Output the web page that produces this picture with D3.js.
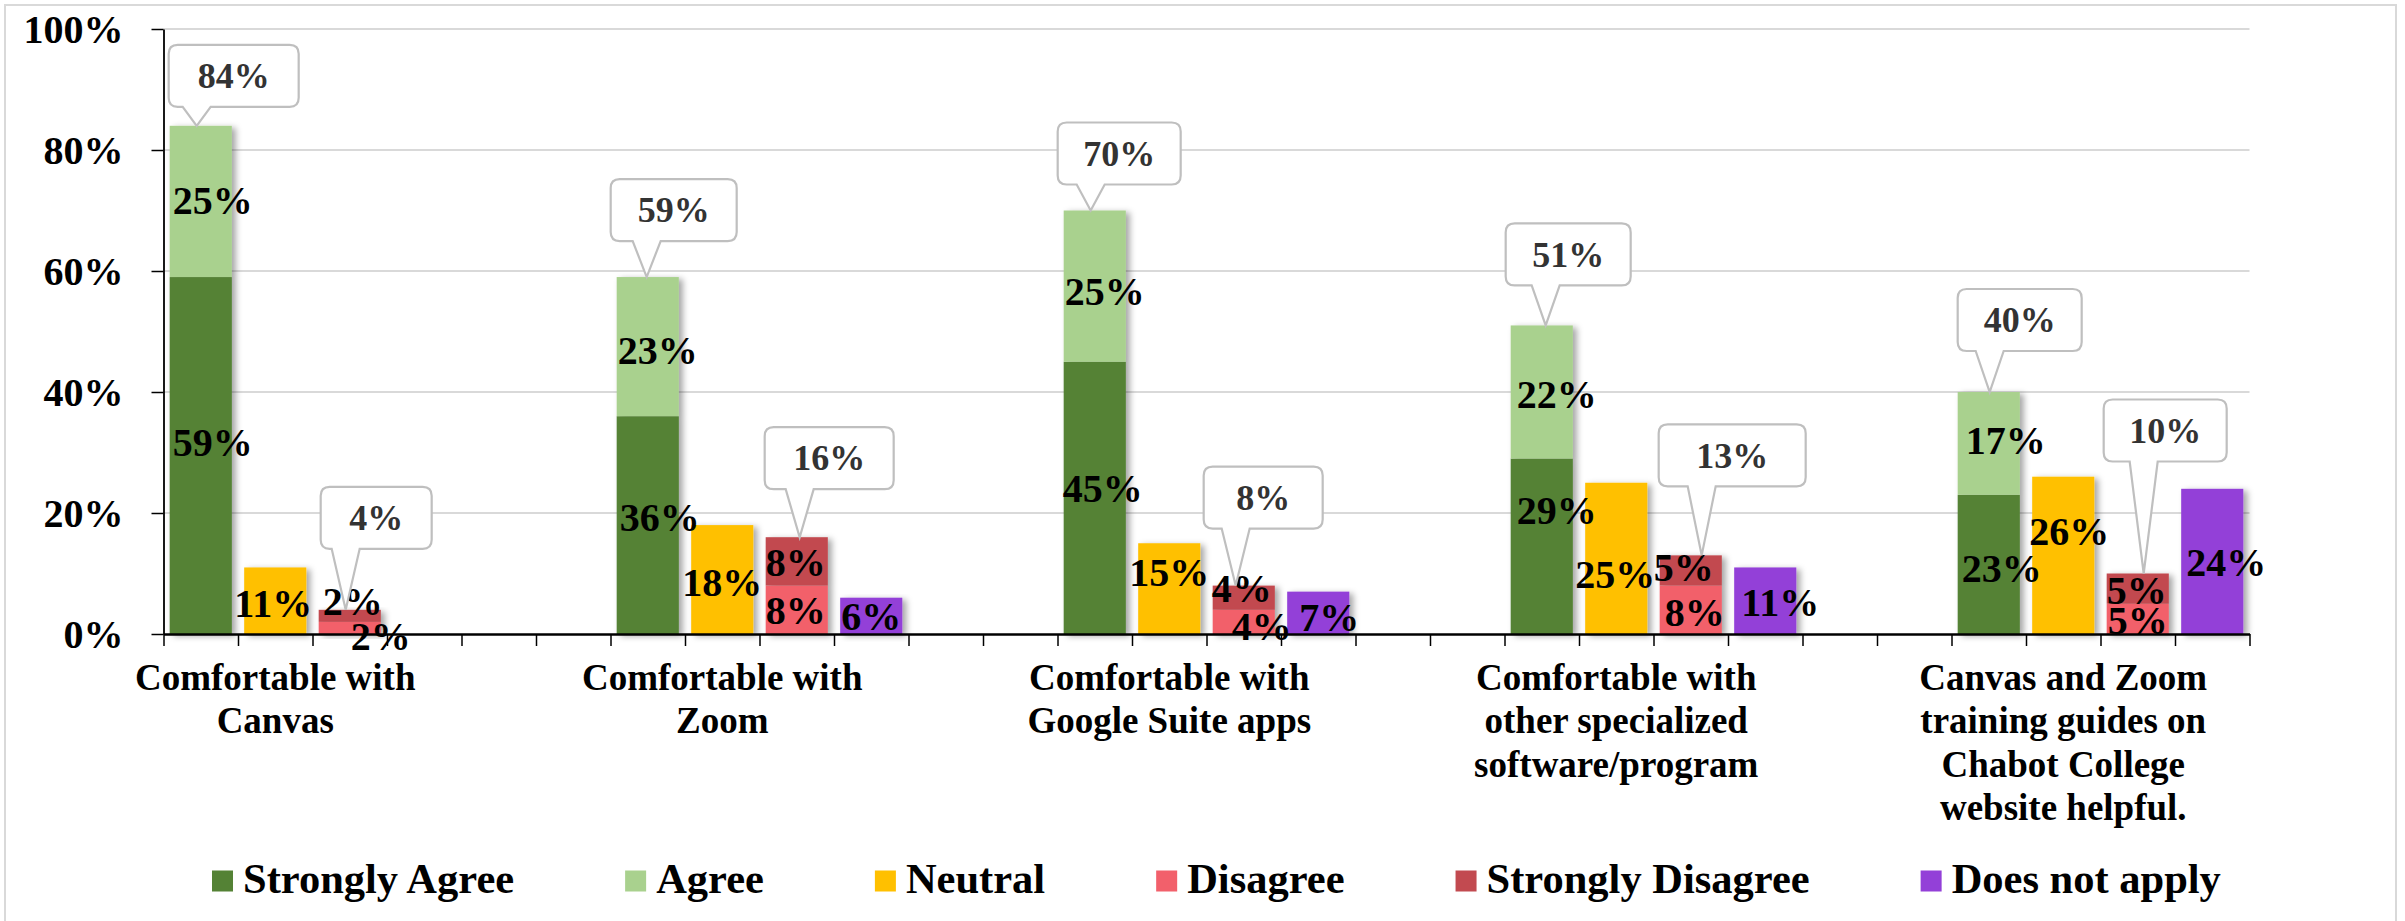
<!DOCTYPE html>
<html><head><meta charset="utf-8">
<script src="https://cdn.jsdelivr.net/npm/d3@7"></script>
<style>
html,body{margin:0;padding:0;background:#fff;}
</style>
</head><body>
<svg id="chart" width="2405" height="921"></svg>
<script>
// ---------- data ----------
const categories = [
  ["Comfortable with", "Canvas"],
  ["Comfortable with", "Zoom"],
  ["Comfortable with", "Google Suite apps"],
  ["Comfortable with", "other specialized", "software/program"],
  ["Canvas and Zoom", "training guides on", "Chabot College", "website helpful."]
];
const seriesNames = ["Strongly Agree", "Agree", "Neutral", "Disagree", "Strongly Disagree", "Does not apply"];
const stronglyAgree    = [59, 36, 45, 29, 23];
const agree            = [25, 23, 25, 22, 17];
const neutral          = [11, 18, 15, 25, 26];
const disagree         = [2, 8, 4, 8, 5];
const stronglyDisagree = [2, 8, 4, 5, 5];
const doesNotApply     = [null, 6, 7, 11, 24];
const yTickValues      = [0, 20, 40, 60, 80, 100];

// ---------- styles / layout ----------
const FONT = "Liberation Serif";
const colors = ["#548235", "#a9d18e", "#ffc000", "#f2606b", "#c24a50", "#9340d8"];
const groupOf = [0, 0, 1, 2, 2, 3];         // which bar slot in a cluster each series uses
// small manual nudges of the in-bar labels (px), as placed in the original
const labelNudge = [
  {dx: [12, 12, 8, 15, 13],  dy: [-13, -8, -9, -36, 4]},
  {dx: [12, 10, 10, 15, 17], dy: [-1, 4, 5, 2, -3]},
  {dx: [-2, 0, 0, -1, 6],    dy: [3, 3, -16, 16, -24]},
  {dx: [31, -1, 18, 4, 0],   dy: [8, 1, 4, 3, 2]},
  {dx: [3, -1, -2, -7, -1],  dy: [-14, 1, -9, -3, 2]},
  {dx: [0, 0, 11, 15, 14],   dy: [0, 1, 5, 2, 1]}
];
// callout placement (px relative to the bar): box x-offset, gap above bar, tip offset, box width
const calloutLayout = {
  0: [{dx:-1,gap:19,tip:27,w:130},{dx:-6,gap:36,tip:30,w:126},{dx:-6,gap:26,tip:27,w:123},{dx:-5,gap:40,tip:35,w:125},{dx:0,gap:41,tip:32,w:124}],
  2: [{dx:2,gap:61,tip:27,w:111},{dx:-1,gap:48,tip:34,w:129},{dx:-9,gap:57,tip:23,w:119},{dx:-1,gap:69,tip:42,w:147},{dx:-3,gap:112,tip:37,w:123}]
};

const X0 = 163.5, X1 = 2249.5, Y0 = 634, Y1 = 29;
const slotsPerCat = 6, groupsPerCat = 4;
const nSlots = (categories.length - 1) * slotsPerCat + groupsPerCat;

const seriesValues = [stronglyAgree, agree, neutral, disagree, stronglyDisagree, doesNotApply];

const svg = d3.select("#chart").style("font-family", FONT).style("font-weight", "bold");
svg.append("rect").attr("x", 5).attr("y", 5).attr("width", 2391).attr("height", 940)
  .attr("fill", "none").attr("stroke", "#d9d9d9").attr("stroke-width", 2);

const defs = svg.append("defs");
const f = defs.append("filter").attr("id", "shadow").attr("x", "-20%").attr("y", "-10%").attr("width", "150%").attr("height", "130%");
f.append("feDropShadow").attr("dx", 4).attr("dy", 2).attr("stdDeviation", 3)
  .attr("flood-color", "#000").attr("flood-opacity", 0.35);

const x = d3.scaleBand().domain(d3.range(nSlots)).range([X0, X1]).paddingInner(0.166).paddingOuter(0.083);
const xs = d3.scaleLinear().domain([0, nSlots]).range([X0, X1]);
const y = d3.scaleLinear().domain([0, 100]).range([Y0, Y1]);
const bw = x.bandwidth();

// gridlines
svg.append("g").selectAll("line").data(yTickValues.filter(v => v > 0)).join("line")
  .attr("x1", X0).attr("x2", X1).attr("y1", d => y(d)).attr("y2", d => y(d))
  .attr("stroke", "#d9d9d9").attr("stroke-width", 2);

// build segments
const segs = [];
categories.forEach((c, ci) => {
  const base = [0, 0, 0, 0];
  seriesValues.forEach((vals, si) => {
    const v = vals[ci];
    if (v == null) return;
    const g = groupOf[si];
    segs.push({ci, si, g, slot: ci * slotsPerCat + g, y0: base[g], y1: base[g] + v, v});
    base[g] += v;
  });
});

// bars (one shadowed group per slot)
const slotGroups = d3.groups(segs, d => d.slot);
svg.append("g").selectAll("g").data(slotGroups).join("g")
  .attr("filter", "url(#shadow)")
  .selectAll("rect").data(d => d[1]).join("rect")
  .attr("x", d => x(d.slot)).attr("width", bw)
  .attr("y", d => y(d.y1)).attr("height", d => y(d.y0) - y(d.y1))
  .attr("fill", d => colors[d.si]);

// axes
const yAxis = d3.axisLeft(y).tickValues(yTickValues).tickFormat(d => d + "%").tickSize(12).tickPadding(28).tickSizeOuter(0);
const gy = svg.append("g").attr("transform", `translate(${X0},0)`).call(yAxis)
  .attr("font-family", null).attr("font-size", null);
gy.select(".domain").attr("stroke", "#000").attr("stroke-width", 1.8);
gy.selectAll(".tick line").attr("stroke", "#000").attr("stroke-width", 1.5);
gy.selectAll(".tick text").style("font-size", "40px").style("font-family", FONT).style("font-weight", "bold")
  .attr("fill", "#000").attr("dy", "0.34em");

const xAxis = d3.axisBottom(xs).tickValues(d3.range(nSlots + 1)).tickFormat("").tickSize(12).tickSizeOuter(0);
const gx = svg.append("g").attr("transform", `translate(0,${Y0})`).call(xAxis);
gx.select(".domain").attr("stroke", "#000").attr("stroke-width", 2.5);
gx.selectAll(".tick line").attr("stroke", "#000").attr("stroke-width", 1.5);

// in-bar data labels
svg.append("g").selectAll("text").data(segs).join("text")
  .attr("x", d => x(d.slot) + bw / 2 + labelNudge[d.si].dx[d.ci])
  .attr("y", d => y((d.y0 + d.y1) / 2) + labelNudge[d.si].dy[d.ci])
  .attr("dy", "0.34em").attr("text-anchor", "middle")
  .style("font-family", FONT).style("font-weight", "bold").style("font-size", "40px").attr("fill", "#000")
  .text(d => d.v + "%");

// callouts with totals
const totals = [];
[0, 2].forEach(g => {
  categories.forEach((c, ci) => {
    const s = segs.filter(d => d.ci === ci && d.g === g);
    const total = d3.sum(s, d => d.v);
    totals.push({ci, g, slot: ci * slotsPerCat + g, total, lay: calloutLayout[g][ci]});
  });
});
const BH = 62, R = 9;
function calloutPath(d) {
  const bl = x(d.slot), bt = y(d.total);
  const L = bl + d.lay.dx, Rr = L + d.lay.w, B = bt - d.lay.gap, T = B - BH;
  const tx = bl + d.lay.tip, ty = bt;
  let b1 = Math.max(L + R + 2, tx - 14), b2 = Math.min(Rr - R - 2, b1 + 28);
  return `M${L + R},${T} H${Rr - R} Q${Rr},${T} ${Rr},${T + R} V${B - R} Q${Rr},${B} ${Rr - R},${B} H${b2} L${tx},${ty} L${b1},${B} H${L + R} Q${L},${B} ${L},${B - R} V${T + R} Q${L},${T} ${L + R},${T} Z`;
}
const cg = svg.append("g").selectAll("g").data(totals).join("g");
cg.append("path").attr("d", calloutPath).attr("fill", "#fff").attr("stroke", "#bfbfbf").attr("stroke-width", 2.2);
cg.append("text")
  .attr("x", d => x(d.slot) + d.lay.dx + d.lay.w / 2)
  .attr("y", d => y(d.total) - d.lay.gap - BH / 2)
  .attr("dy", "0.34em").attr("text-anchor", "middle")
  .style("font-family", FONT).style("font-weight", "bold").style("font-size", "36px").attr("fill", "#333")
  .text(d => d.total + "%");

// category labels
const cl = svg.append("g").selectAll("text").data(categories).join("text")
  .attr("x", (d, i) => x(i * slotsPerCat + 1) + bw / 2)
  .attr("y", 690).attr("text-anchor", "middle")
  .style("font-family", FONT).style("font-weight", "bold").style("font-size", "37px").attr("fill", "#000");
cl.selectAll("tspan").data(d => d).join("tspan")
  .attr("x", function () { return d3.select(this.parentNode).attr("x"); })
  .attr("dy", (d, i) => i === 0 ? 0 : 43.3)
  .text(d => d);

// legend
const lg = svg.append("g");
let lx = 212;
seriesNames.forEach((name, i) => {
  lg.append("rect").attr("x", lx).attr("y", 870.5).attr("width", 21).attr("height", 21).attr("fill", colors[i]);
  const t = lg.append("text").attr("x", lx + 31).attr("y", 893)
    .style("font-family", FONT).style("font-weight", "bold").style("font-size", "42.5px").attr("fill", "#000").text(name);
  lx += 31 + t.node().getComputedTextLength() + 111;
});
</script>
</body></html>
